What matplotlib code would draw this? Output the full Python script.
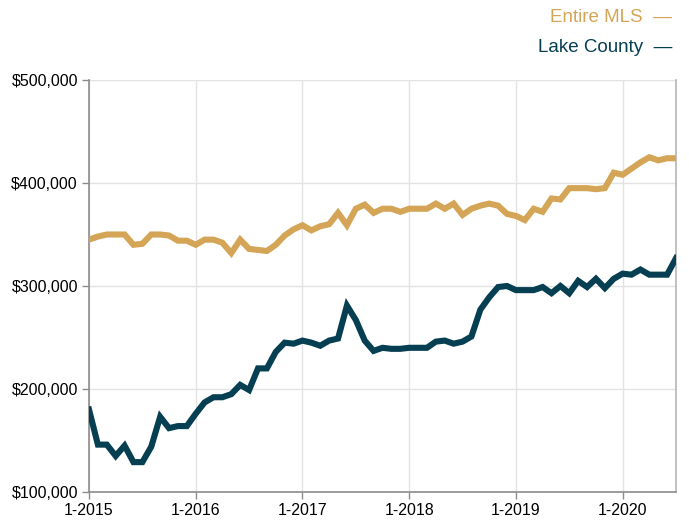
import numpy as np
import pandas as pd
import matplotlib
matplotlib.use("Agg")
import matplotlib.pyplot as plt
from matplotlib.ticker import FuncFormatter

# -----------------------------
# Data (monthly median price, in $1000s), Jan 2015 - Jul 2020
# -----------------------------
months = pd.date_range("2015-01-01", "2020-07-01", freq="MS")

entire_mls = [
    345, 348, 350, 350, 350, 340, 341, 350, 350, 349, 344, 344,
    340, 345, 345, 342, 332, 345, 336, 335, 334, 340, 349, 355,
    359, 354, 358, 360, 371, 359, 375, 379, 371, 375, 375, 372,
    375, 375, 375, 380, 375, 380, 369, 375, 378, 380, 378, 370,
    368, 364, 375, 372, 385, 384, 395, 395, 395, 394, 395, 410,
    408, 414, 420, 425, 422, 424, 424,
]

lake_county = [
    180, 146, 146, 135, 145, 129, 129, 144, 173, 162, 164, 164,
    176, 187, 192, 192, 195, 204, 199, 220, 220, 236, 245, 244,
    247, 245, 242, 247, 249, 281, 267, 247, 237, 240, 239, 239,
    240, 240, 240, 246, 247, 244, 246, 251, 277, 289, 299, 300,
    296, 296, 296, 299, 293, 300, 293, 305, 299, 307, 298, 307,
    312, 311, 316, 311, 311, 311, 327,
]

series_names = ["Entire MLS", "Lake County"]
y_ticks = [100000, 200000, 300000, 400000, 500000]
x_tick_years = [2015, 2016, 2017, 2018, 2019, 2020]

GOLD = "#D4A556"
TEAL = "#063F52"
GRID = "#E3E3E3"
SPINE = "#8C8C8C"

plt.rcParams["font.family"] = ["Liberation Sans", "DejaVu Sans"]

# -----------------------------
# Figure
# -----------------------------
fig = plt.figure(figsize=(6.89, 5.21), dpi=100)
ax = fig.add_axes([89 / 689, 29 / 521, (676 - 89) / 689, (492 - 80) / 521])

x = np.arange(len(months))
mls = np.array(entire_mls) * 1000
lake = np.array(lake_county) * 1000

ax.plot(x, mls, color=GOLD, lw=4.4, solid_joinstyle="miter", zorder=3)
ax.plot(x, lake, color=TEAL, lw=4.4, solid_joinstyle="miter", zorder=3)

ax.set_xlim(0, len(months) - 1)
ax.set_ylim(100000, 500000)

xt = [i for i, m in enumerate(months) if m.month == 1 and m.year in x_tick_years]
ax.set_xticks(xt)
ax.set_xticklabels([f"{m.month}-{m.year}" for m in months[xt]])
ax.set_yticks(y_ticks)
ax.yaxis.set_major_formatter(FuncFormatter(lambda v, p: f"${v:,.0f}"))

ax.grid(True, color=GRID, lw=1, zorder=0)
ax.set_axisbelow(True)

ax.spines["top"].set_visible(False)
ax.spines["left"].set_color(SPINE)
ax.spines["bottom"].set_color(SPINE)
ax.spines["right"].set_color("#B5B5B5")
for s in ["left", "bottom", "right"]:
    ax.spines[s].set_linewidth(1.2)

ax.tick_params(axis="both", colors=SPINE, length=5, width=1, labelsize=11.5,
               labelcolor="black")
ax.tick_params(axis="x", pad=3)
ax.tick_params(axis="y", pad=3)

# legend as right-aligned text with trailing dash
fig.text(672 / 689, 1 - 17 / 521, series_names[0] + "  \u2014", color=GOLD,
         fontsize=13.5, ha="right", va="center")
fig.text(672 / 689, 1 - 48 / 521, series_names[1] + "  \u2014", color=TEAL,
         fontsize=13.5, ha="right", va="center")

fig.savefig("out.png", dpi=100)
plt.close(fig)
